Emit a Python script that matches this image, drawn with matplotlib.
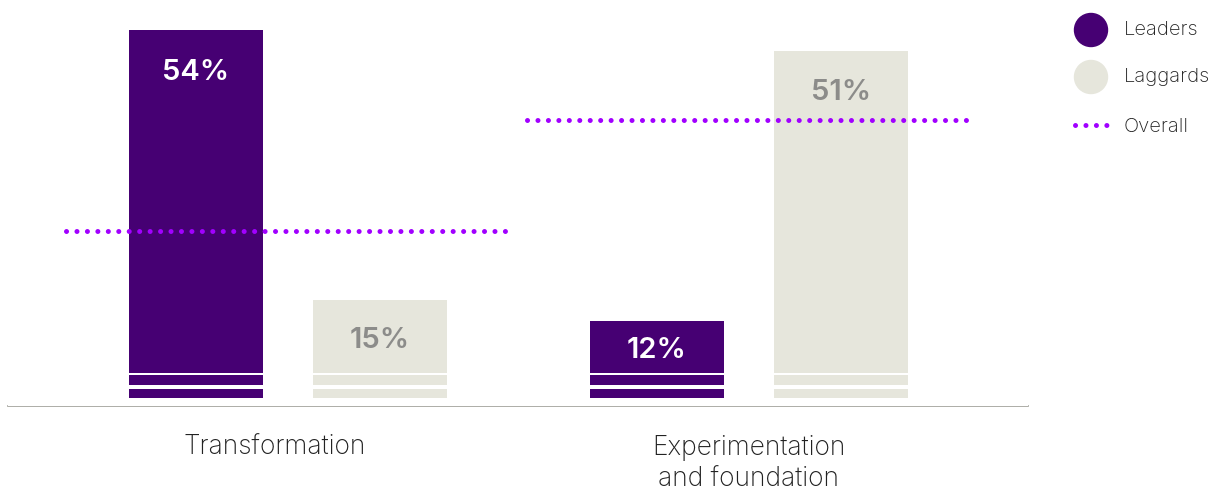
import numpy as np
import matplotlib.pyplot as plt
from matplotlib.patches import Circle

# share of respondents, by group
groups = ["Transformation", "Experimentation\nand foundation"]
leaders = [54, 12]
laggards = [15, 51]
overall = [25, 41]

leader_col = "#460073"
laggard_col = "#e6e6dc"
overall_col = "#a100ff"

plt.rcParams['font.family'] = ['Inter', 'DejaVu Sans']

fig = plt.figure(figsize=(12.19, 4.92), dpi=100)
W, H = 1219, 492

# main axes: bottom spine at y=406px, full height above
ax = fig.add_axes([8 / W, (H - 406) / H, 1020 / W, 406 / H])
px_per_pct = 6.93
ybot = -2 / px_per_pct
ax.set_ylim(ybot, ybot + 406 / px_per_pct)
xunit = 134.0
ax.set_xlim((8 - 288) / xunit, (1028 - 288) / xunit)

centers = np.array([0, 461 / xunit])
off = 92 / xunit
ax.bar(centers - off, leaders, width=1.0, color=leader_col, zorder=2)
ax.bar(centers + off, laggards, width=1.0, color=laggard_col, zorder=2)

# white cuts across the bar bases
for lo, hi in [(-1, 0.8), (2.1, 2.8), (4.2, 4.5)]:
    ax.axhspan(lo, hi, color="white", zorder=3, lw=0)

# value labels
def label_y(v):
    return v - min(5.5, (v - 4.5) / 2) - 0.6

for c, v in zip(centers - off, leaders):
    ax.text(c, label_y(v), f"{v}%", ha="center", va="center", color="white",
            fontsize=21, fontweight="semibold", zorder=4)
for c, v in zip(centers + off, laggards):
    ax.text(c, label_y(v), f"{v}%", ha="center", va="center", color="#8c8c8a",
            fontsize=21, fontweight="semibold", zorder=4)

# overall reference lines
for c, v in zip(centers, overall):
    ax.plot([c - 1.657, c + 1.619], [v, v], color=overall_col, lw=3.6,
            linestyle=(0, (0.01, 2.08)), dash_capstyle="round", zorder=5)

for s in ["top", "left", "right"]:
    ax.spines[s].set_visible(False)
ax.spines["bottom"].set_color("#a0a098")
ax.spines["bottom"].set_linewidth(1.2)
ax.set_yticks([])
ax.set_xticks(centers + np.array([-13 / xunit, 0]))
ax.set_xticklabels(groups, fontsize=19, fontweight="light", color="#222222",
                   linespacing=1.28)
ax.tick_params(axis="x", length=0, pad=21)
for t in ax.get_xticklabels():
    t.set_verticalalignment("top")

# legend drawn in pixel space
lg = fig.add_axes([0, 0, 1, 1])
lg.set_xlim(0, W)
lg.set_ylim(H, 0)
lg.axis("off")
lg.add_patch(Circle((1091, 30), 16.5, color=leader_col))
lg.add_patch(Circle((1091, 77), 16.5, color=laggard_col))
lg.plot([1075, 1110], [125, 125], color=overall_col, lw=3.6,
        linestyle=(0, (0.01, 2.08)), dash_capstyle="round")
for y, txt in [(30, "Leaders"), (77, "Laggards"), (127, "Overall")]:
    lg.text(1124, y, txt, fontsize=14.5, fontweight="light", color="#222222",
            va="center", ha="left")

fig.savefig("out.png", dpi=100)
